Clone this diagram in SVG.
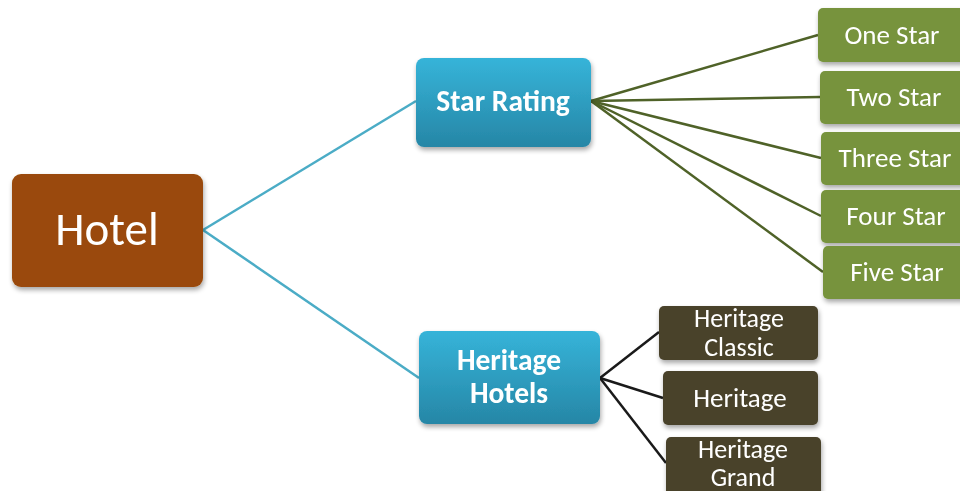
<svg xmlns="http://www.w3.org/2000/svg" width="960" height="491" viewBox="0 0 960 491">
<defs>
<linearGradient id="blue" x1="0" y1="0" x2="0" y2="1">
<stop offset="0" stop-color="#36b4d9"/>
<stop offset="1" stop-color="#2686a6"/>
</linearGradient>
<filter id="sh" x="-10%" y="-10%" width="125%" height="130%">
<feGaussianBlur in="SourceAlpha" stdDeviation="2.5"/>
<feOffset dx="1" dy="3" result="b"/>
<feComponentTransfer><feFuncA type="linear" slope="0.35"/></feComponentTransfer>
<feMerge><feMergeNode/><feMergeNode in="SourceGraphic"/></feMerge>
</filter>
</defs>
<style>
text{font-family:Carlito,"Open Sans","Noto Sans",sans-serif;fill:#fff;text-anchor:middle;dominant-baseline:central}
.hotel{fill:#9a4a08}
.blue{fill:url(#blue)}
.green{fill:#77933c}
.brown{fill:#4a432b}
.b{font-weight:bold;font-size:29.5px}
.s{font-size:27px}
.t{font-size:26px}
.c1{stroke:#4bacc6;stroke-width:2.5;fill:none}
.c2{stroke:#4f6228;stroke-width:2.5;fill:none}
.c3{stroke:#1a1a1a;stroke-width:2.5;fill:none}
</style>
<rect width="960" height="491" fill="#fff"/>
<g id="connectors">
<line class="c1" x1="203" y1="230" x2="416" y2="101"/>
<line class="c1" x1="203" y1="230" x2="419" y2="378"/>
<line class="c2" x1="591" y1="101" x2="818" y2="35"/>
<line class="c2" x1="591" y1="101" x2="820" y2="97"/>
<line class="c2" x1="591" y1="101" x2="821" y2="158"/>
<line class="c2" x1="591" y1="101" x2="821" y2="216"/>
<line class="c2" x1="591" y1="101" x2="823" y2="272"/>
<line class="c3" x1="600" y1="378" x2="659" y2="332"/>
<line class="c3" x1="600" y1="378" x2="663" y2="398"/>
<line class="c3" x1="600" y1="378" x2="666" y2="463"/>
</g>
<g id="hotel" filter="url(#sh)">
<rect class="hotel" x="12" y="174" width="191" height="113" rx="9"/>
<text x="107" y="229" style="font-size:47px">Hotel</text>
</g>
<g id="star-rating" filter="url(#sh)">
<rect class="blue" x="416" y="58" width="175" height="89" rx="8"/>
<text class="b" x="503" y="101">Star Rating</text>
</g>
<g id="heritage-hotels" filter="url(#sh)">
<rect class="blue" x="419" y="331" width="181" height="93" rx="8"/>
<text class="b" x="509" y="360">Heritage</text>
<text class="b" x="509" y="393">Hotels</text>
</g>
<g id="one-star" filter="url(#sh)">
<rect class="green" x="818" y="8" width="150" height="54" rx="5"/>
<text class="s" x="892" y="34">One Star</text>
</g>
<g id="two-star" filter="url(#sh)">
<rect class="green" x="820" y="71" width="150" height="53" rx="5"/>
<text class="s" x="894" y="96">Two Star</text>
</g>
<g id="three-star" filter="url(#sh)">
<rect class="green" x="821" y="132" width="150" height="53" rx="5"/>
<text class="s" x="895" y="157">Three Star</text>
</g>
<g id="four-star" filter="url(#sh)">
<rect class="green" x="821" y="190" width="150" height="53" rx="5"/>
<text class="s" x="896" y="215">Four Star</text>
</g>
<g id="five-star" filter="url(#sh)">
<rect class="green" x="823" y="246" width="150" height="53" rx="5"/>
<text class="s" x="897" y="271">Five Star</text>
</g>
<g id="heritage-classic" filter="url(#sh)">
<rect class="brown" x="659" y="306" width="159" height="54" rx="5"/>
<text class="t" x="739" y="318">Heritage</text>
<text class="t" x="739" y="347">Classic</text>
</g>
<g id="heritage" filter="url(#sh)">
<rect class="brown" x="663" y="371" width="155" height="54" rx="5"/>
<text class="s" x="740" y="397">Heritage</text>
</g>
<g id="heritage-grand" filter="url(#sh)">
<rect class="brown" x="666" y="437" width="155" height="60" rx="5"/>
<text class="t" x="743" y="449">Heritage</text>
<text class="t" x="743" y="477">Grand</text>
</g>
</svg>
